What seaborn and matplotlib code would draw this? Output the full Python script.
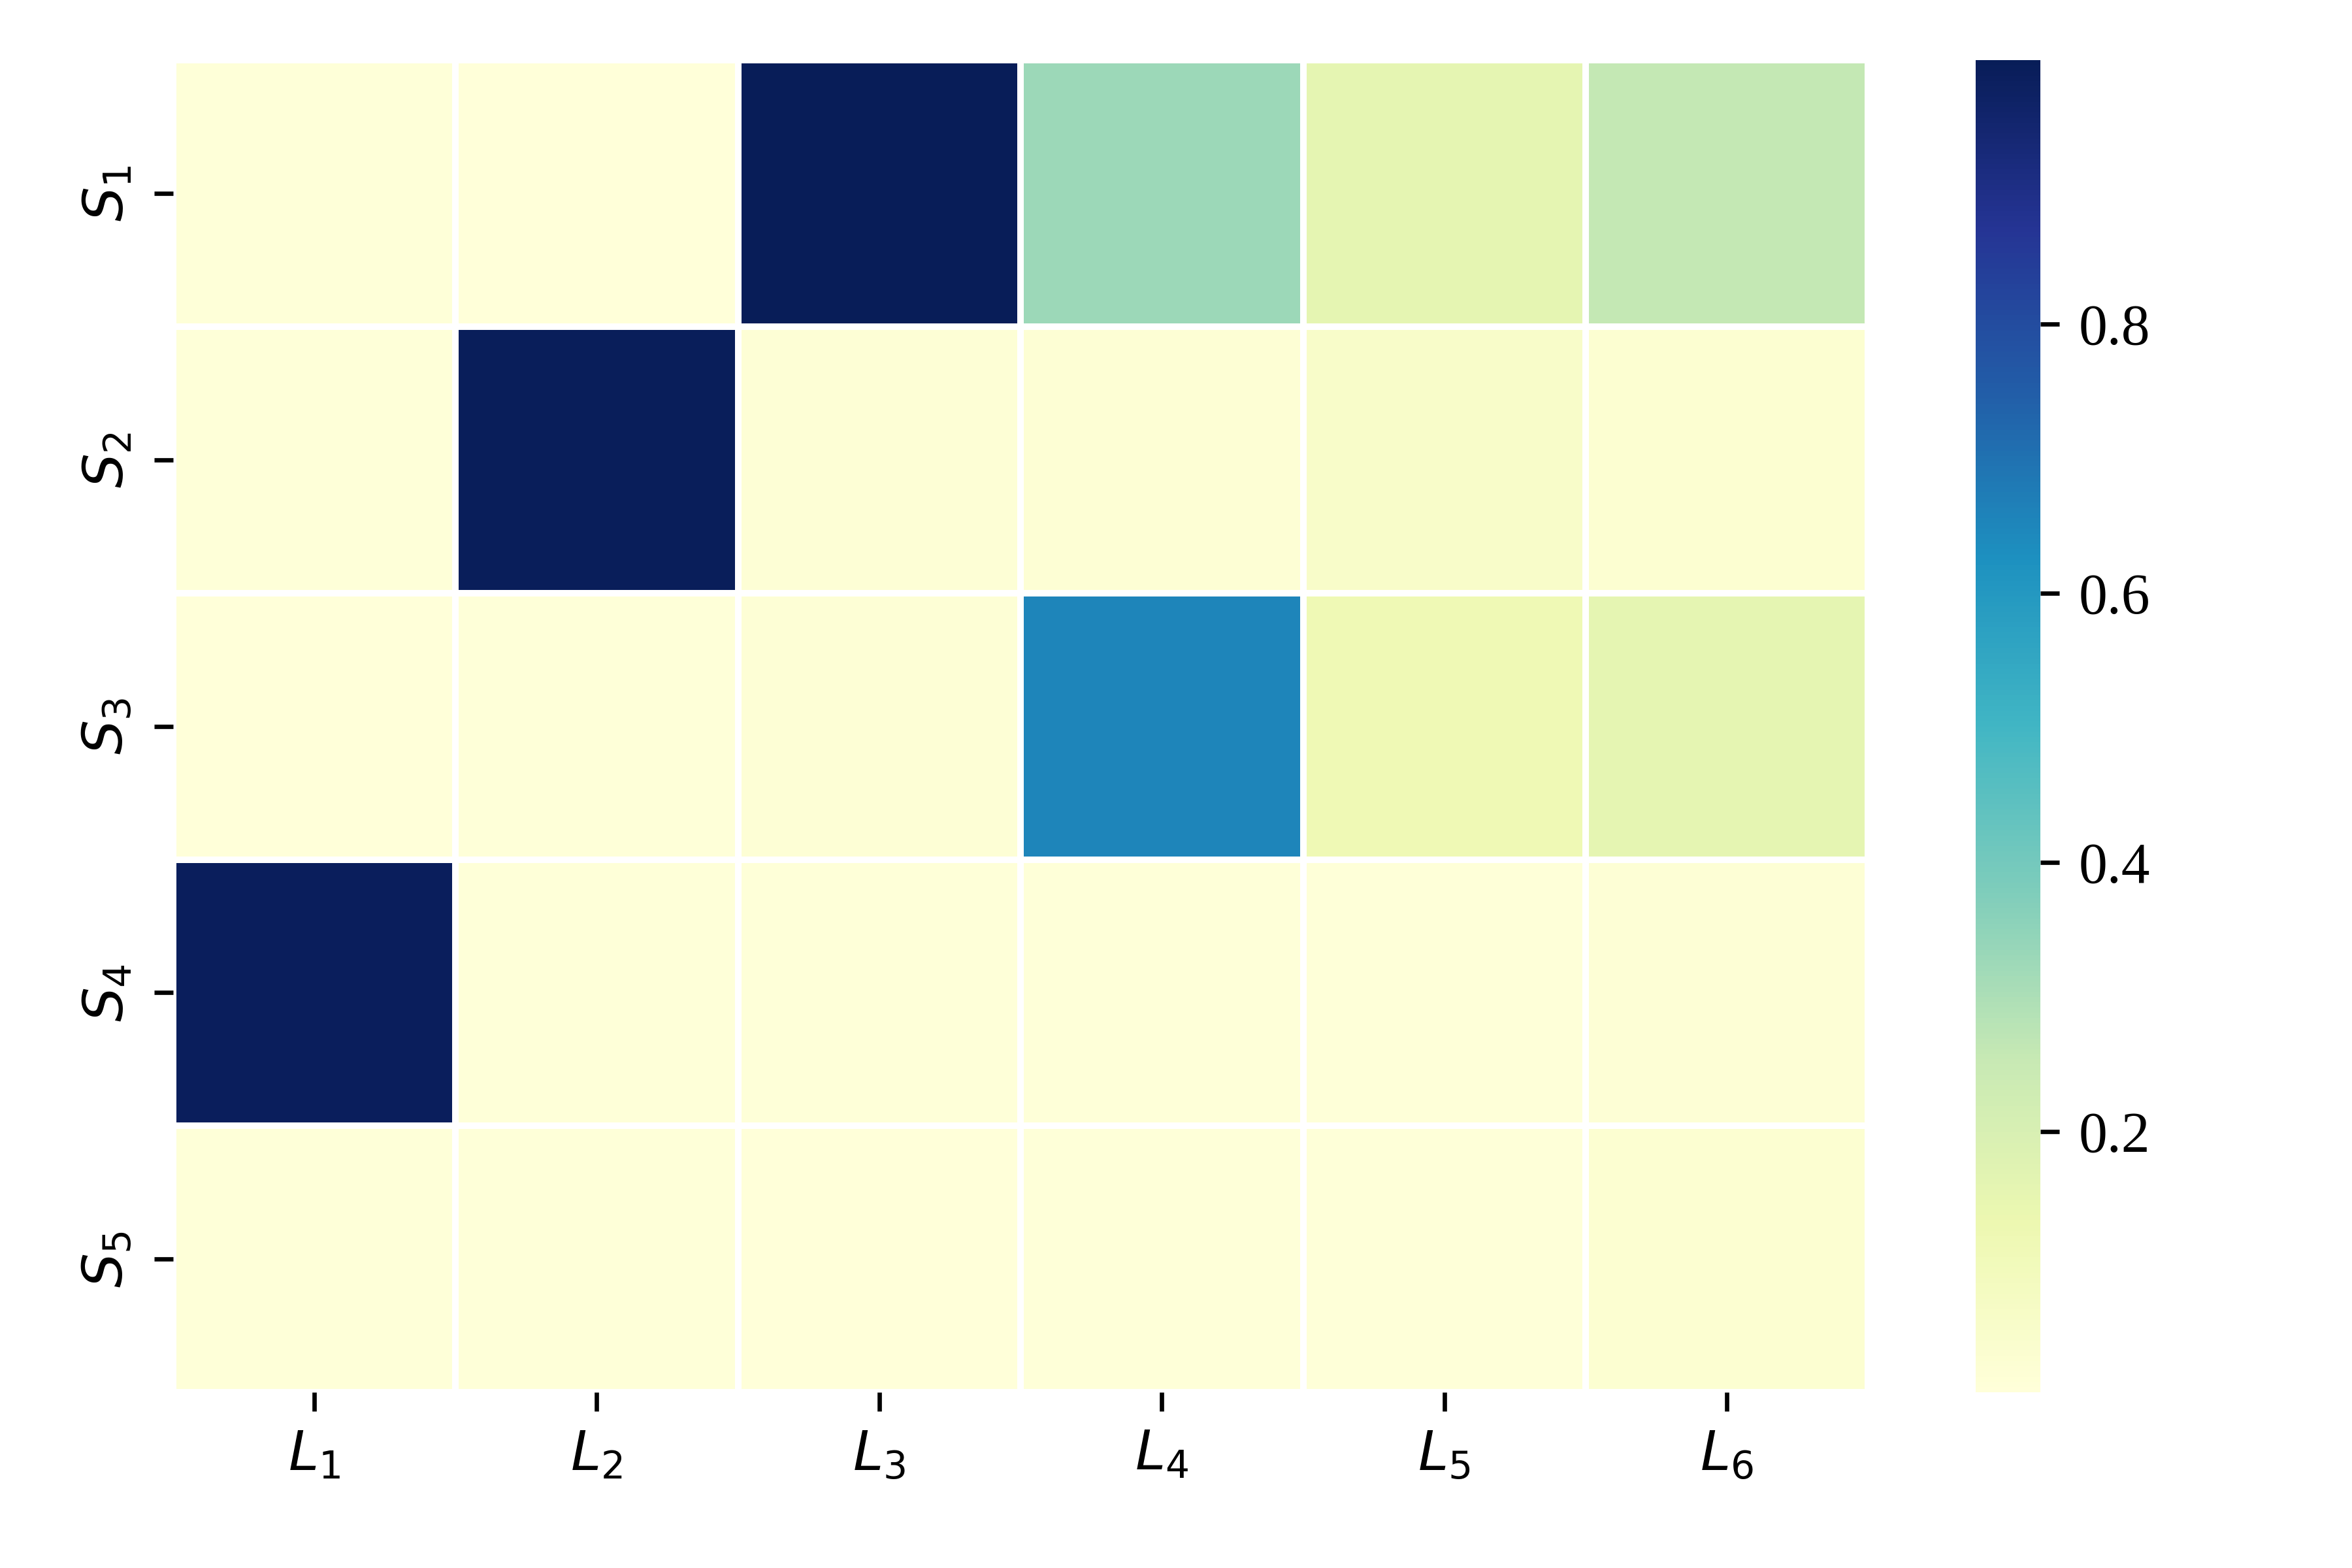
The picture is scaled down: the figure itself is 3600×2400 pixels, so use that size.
import numpy as np
import pandas as pd
import matplotlib
matplotlib.use("Agg")
import matplotlib.pyplot as plt
import seaborn as sns

# row / column labels
rows = [r"$S_1$", r"$S_2$", r"$S_3$", r"$S_4$", r"$S_5$"]
cols = [r"$L_1$", r"$L_2$", r"$L_3$", r"$L_4$", r"$L_5$", r"$L_6$"]

# values (one list per row)
s1 = [0.012, 0.006, 0.996, 0.330, 0.160, 0.260]
s2 = [0.012, 0.990, 0.020, 0.025, 0.060, 0.030]
s3 = [0.008, 0.012, 0.020, 0.655, 0.120, 0.160]
s4 = [0.985, 0.012, 0.010, 0.012, 0.012, 0.018]
s5 = [0.010, 0.012, 0.008, 0.012, 0.010, 0.030]

cbar_ticks = [0.2, 0.4, 0.6, 0.8]

df = pd.DataFrame([s1, s2, s3, s4, s5], index=rows, columns=cols)

plt.rcParams["font.family"] = ["Liberation Serif", "DejaVu Serif"]
plt.rcParams["mathtext.fontset"] = "dejavusans"

fig = plt.figure(figsize=(6, 4), dpi=600)
ax = fig.add_axes([0.0735, 0.112, 0.7208, 0.8496])
cax = fig.add_axes([0.84, 0.112, 0.0275, 0.8496])

sns.heatmap(df, cmap="YlGnBu", linewidths=1.2, linecolor="white",
            ax=ax, cbar_ax=cax, cbar_kws={"ticks": cbar_ticks})

ax.tick_params(axis="both", labelsize=10)
plt.setp(ax.get_yticklabels(), rotation=90, va="center")
plt.setp(ax.get_xticklabels(), rotation=0)
cax.tick_params(labelsize=10.5)

fig.savefig("out.png", dpi=600)
